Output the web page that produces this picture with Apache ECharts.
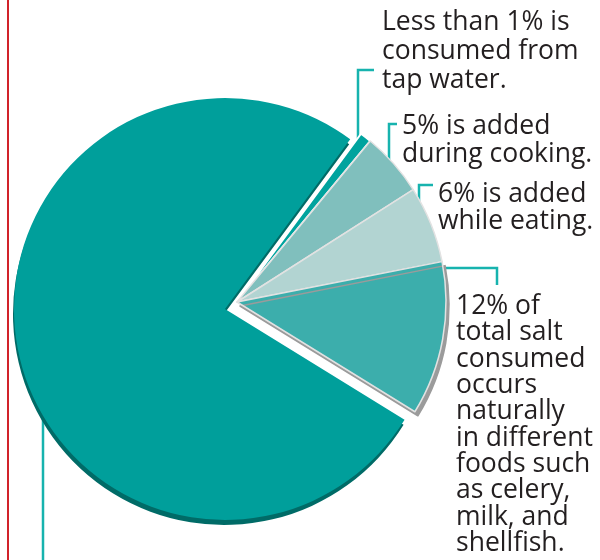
<!DOCTYPE html>
<html>
<head>
<meta charset="utf-8">
<script src="https://cdn.jsdelivr.net/npm/echarts@6/dist/echarts.min.js"></script>
<style>
  html, body { margin: 0; padding: 0; background: #fff; }
  #chart { width: 600px; height: 560px; }
</style>
</head>
<body>
<div id="chart"></div>
<script>
// sources of salt, clockwise from the small dark slice
var names = ['Tap water', 'Added during cooking', 'Added while eating', 'Naturally occurring', 'Processed foods'];
var values = [0.9, 5, 6, 12, 77];
var colors = ['#00a39e', '#80bfbd', '#b2d4d2', '#3caeac', '#009f9b'];
var labels = [
  'Less than 1% is\nconsumed from\ntap water.',
  '5% is added\nduring cooking.',
  '6% is added\nwhile eating.',
  '12% of\ntotal salt\nconsumed\noccurs\nnaturally\nin different\nfoods such\nas celery,\nmilk, and\nshellfish.'
];
var BIG = 4;

var chart = echarts.init(document.getElementById('chart'));

// big slice on its own, other slices pulled out as a group
var bigData = [], smallData = [];
for (var i = 0; i < values.length; i++) {
  if (i == BIG) {
    bigData.push({ name: names[i], value: values[i], itemStyle: { color: colors[i], shadowColor: '#006b67', shadowOffsetX: -1, shadowOffsetY: 5 } });
    smallData.push({ name: names[i], value: values[i], itemStyle: { color: 'rgba(0,0,0,0)', borderWidth: 0 } });
  } else {
    bigData.push({ name: names[i], value: values[i], itemStyle: { color: 'rgba(0,0,0,0)' } });
    var st = { color: colors[i], borderColor: '#e2e2e2', borderWidth: 1.5 };
    if (i == 0) { st.borderColor = '#ffffff'; st.borderWidth = 2; }
    if (i == 3) { st.shadowColor = '#9b9b9b'; st.shadowOffsetX = 3; st.shadowOffsetY = 4; }
    smallData.push({ name: names[i], value: values[i], itemStyle: st });
  }
}

var textStyle = { font: '26.5px "Open Sans"', fill: '#231f20', align: 'left', verticalAlign: 'top' };
function txt(x, y, s, lh) {
  return { type: 'text', x: x, y: y, style: Object.assign({ text: s, lineHeight: lh }, textStyle) };
}
function lead(pts) {
  return { type: 'polyline', shape: { points: pts }, style: { stroke: '#17b3ae', lineWidth: 2.5, fill: null } };
}

chart.setOption({
  animation: false,
  series: [
    {
      type: 'pie', silent: true, center: [225, 309], radius: 211, startAngle: 53.6,
      label: { show: false }, labelLine: { show: false }, emphasis: { disabled: true },
      itemStyle: { borderWidth: 0 },
      data: bigData
    },
    {
      type: 'pie', silent: true, center: [237, 302], radius: 209, startAngle: 53.6,
      label: { show: false }, labelLine: { show: false }, emphasis: { disabled: true },
      data: smallData
    }
  ],
  graphic: [
    { type: 'line', shape: { x1: 8, y1: 0, x2: 8, y2: 560 }, style: { stroke: '#d1232a', lineWidth: 2 } },
    lead([[358, 153], [358, 70], [374, 70]]),
    lead([[389, 173], [389, 124], [397, 124]]),
    lead([[419, 212], [419, 185], [433, 185]]),
    lead([[435, 268], [497, 268], [497, 285]]),
    lead([[43, 388], [43, 560]]),
    txt(382, 7.5, labels[0], 29),
    txt(402, 112.5, labels[1], 28),
    txt(438, 180.5, labels[2], 27.5),
    txt(456, 293.5, labels[3], 26.3)
  ]
});
</script>
</body>
</html>
